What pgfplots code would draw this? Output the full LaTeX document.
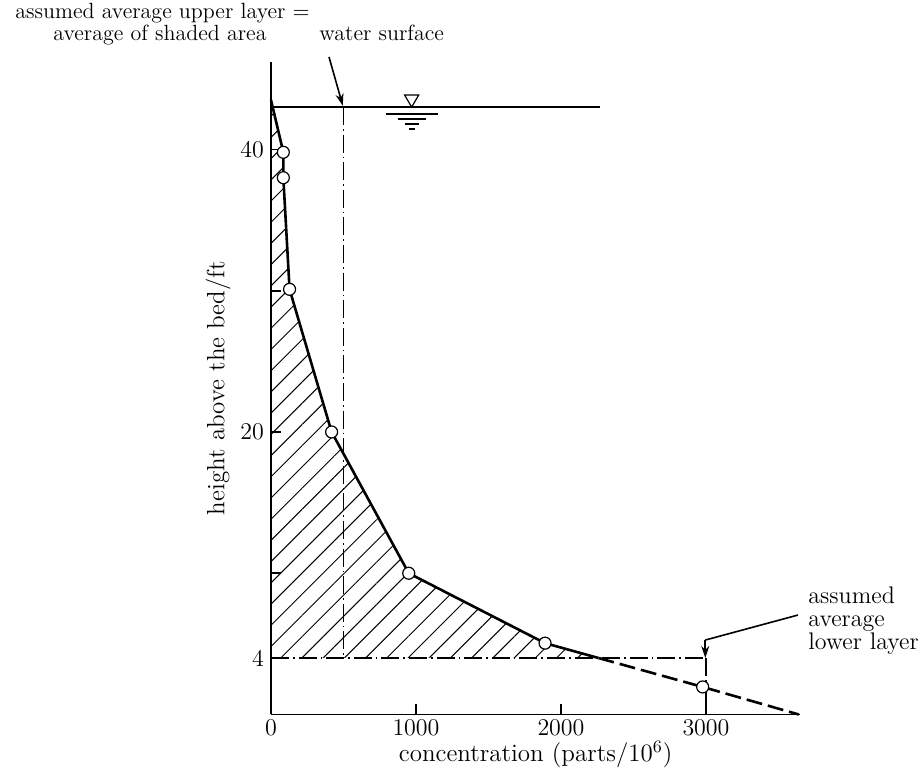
\documentclass[border=0pt]{standalone}
\usepackage{pgfplots}
\pgfplotsset{compat=1.18}
\usetikzlibrary{patterns.meta,arrows.meta}
\begin{document}
\begin{tikzpicture}[font=\fontsize{11}{13}\selectfont]
\path[use as bounding box] (-135.5pt,-27.25pt) rectangle (326.5pt,357.25pt);
\begin{axis}[
  at={(0,0)}, anchor=south west,
  scale only axis,
  width=264.625pt,
  height=326.3pt,
  xmin=0,xmax=3650,ymin=0,ymax=46.2,
  axis lines*=left,
  axis line style={line width=0.8pt},
  tick align=inside,
  major tick length=5pt,
  xtick={0,1000,2000,3000},
  ytick={4,10,20,30,40},
  yticklabels={4,,20,,40},
  tick style={line width=0.8pt,black},
  xticklabel style={/pgf/number format/1000 sep={}, inner sep=1pt, yshift=-1.5pt},
  xlabel={concentration (parts/10\textsuperscript{6})},
  ylabel={height above the bed/ft},
  xlabel style={inner sep=1pt, yshift=-0.5pt, font=\fontsize{12}{14}\selectfont},
  ylabel style={yshift=-2pt},
  clip=false,
  tick label style={font=\fontsize{12}{14}\selectfont},
  label style={font=\fontsize{12.5}{15}\selectfont},
]
% hatched area
\addplot[draw=none, pattern={Lines[angle=45,distance=7.5pt,line width=0.5pt]}]
  coordinates {(0,4) (2258,4) (1890,5.05) (950,10) (418,20) (128,30.1) (85,38.0) (85,39.8) (0,43.5)} -- cycle;
% dash-dot lines
\addplot[line width=0.6pt, dash pattern=on 9pt off 2pt on 0.8pt off 2pt] coordinates {(500,43) (500,4)};
\addplot[line width=0.6pt, dash pattern=on 9pt off 2pt on 0.8pt off 2pt] coordinates {(0,4) (3000,4)};
\addplot[line width=0.6pt, dash pattern=on 9pt off 2pt on 0.8pt off 2pt] coordinates {(3000,4) (3000,0)};
% water surface
\addplot[line width=0.7pt] coordinates {(0,43) (2270,43)};
% curve solid
\addplot[line width=1.3pt] coordinates {(0,43.5) (85,39.8) (85,38.0) (128,30.1) (418,20) (950,10) (1890,5.05) (2258,4)};
% curve dashed
\addplot[line width=1.3pt, dash pattern=on 8pt off 3pt] coordinates {(2258,4) (2977,1.95) (3640,0)};
% measured points
\addplot[only marks, mark=*, mark size=3pt, mark options={fill=white,draw=black,line width=0.6pt}]
  coordinates {(85,39.8) (85,38.0) (128,30.1) (418,20) (950,10) (1890,5.05) (2977,1.95)};
% water symbol
\draw[line width=0.6pt] (axis cs:970,43) -- ++(-3.5pt,6pt) -- ++(7pt,0) -- cycle;
\draw[line width=0.8pt] (axis cs:970,43) ++(-13pt,-3.5pt) -- ++(26pt,0);
\draw[line width=0.6pt] (axis cs:970,43) ++(-7pt,-6pt) -- ++(14pt,0);
\draw[line width=0.6pt] (axis cs:970,43) ++(-3.5pt,-8.5pt) -- ++(7pt,0);
\draw[line width=0.6pt] (axis cs:970,43) ++(-1.5pt,-11pt) -- ++(3pt,0);
% arrows
\draw[line width=0.8pt,-{Stealth[length=6pt,width=4pt]}] (axis cs:400,46.55) -- (axis cs:495,43.1);
\draw[line width=0.8pt] (axis cs:3634,7.04) -- (axis cs:2995,5.27);
\draw[line width=0.8pt,-{Stealth[length=6pt,width=4pt]}] (axis cs:2995,5.27) -- (axis cs:2995,4);
\end{axis}
% texts (picture coordinates: 1px = 0.5pt, origin at data (0,0))
\node[anchor=base west,inner sep=0pt] at (-128pt,347.75pt) {assumed average upper layer $=$};
\node[anchor=base west,inner sep=0pt] at (-109pt,336.75pt) {average of shaded area};
\node[anchor=base west,inner sep=0pt] at (24pt,336.75pt) {water surface};
\begin{scope}[font=\fontsize{12}{14}\selectfont]
\node[anchor=base west,inner sep=0pt] at (268.5pt,55.25pt) {assumed};
\node[anchor=base west,inner sep=0pt] at (268.5pt,43.75pt) {average};
\node[anchor=base west,inner sep=0pt] at (268.5pt,32.25pt) {lower layer};
\end{scope}
\end{tikzpicture}
\end{document}
